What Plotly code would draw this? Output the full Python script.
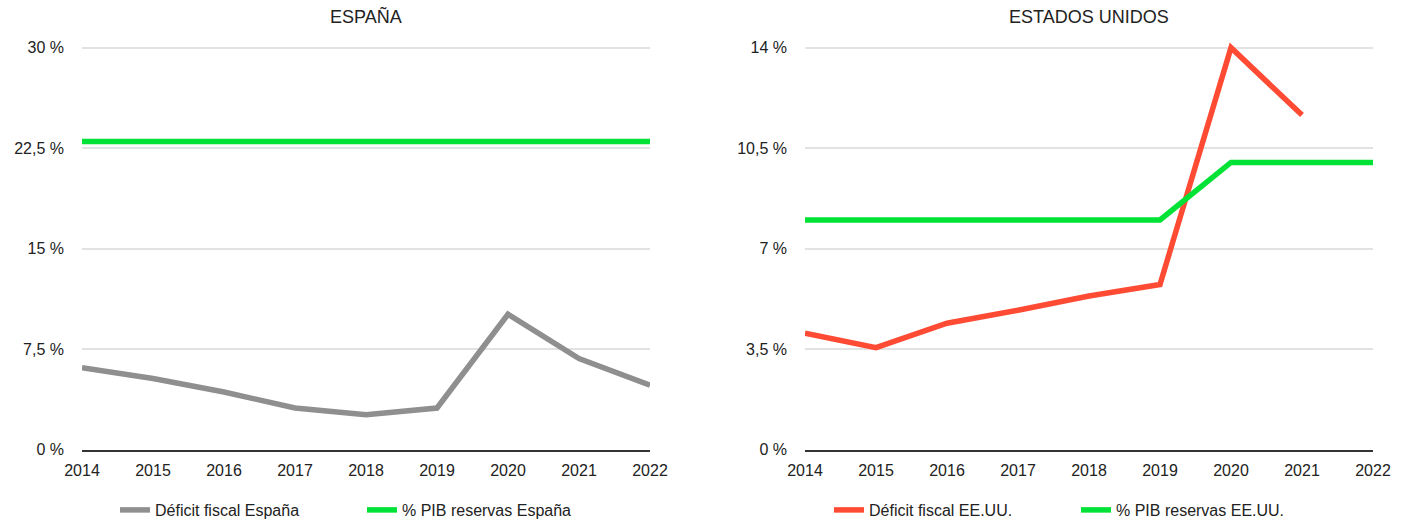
import plotly.graph_objects as go

# Years shared by both panels
years = [2014, 2015, 2016, 2017, 2018, 2019, 2020, 2021, 2022]

# España (% of GDP)
deficit_es = [6.1, 5.3, 4.3, 3.1, 2.6, 3.1, 10.1, 6.8, 4.8]
reservas_es = [23.0, 23.0, 23.0, 23.0, 23.0, 23.0, 23.0, 23.0, 23.0]

# Estados Unidos (% of GDP); 2022 deficit not available
deficit_us = [4.05, 3.55, 4.4, 4.85, 5.35, 5.75, 14.0, 11.65, None]
reservas_us = [8.0, 8.0, 8.0, 8.0, 8.0, 8.0, 10.0, 10.0, 10.0]

# Axis ticks
es_tickvals = [0, 7.5, 15, 22.5, 30]
es_ticktext = ["0 %", "7,5 %", "15 %", "22,5 %", "30 %"]
us_tickvals = [0, 3.5, 7, 10.5, 14]
us_ticktext = ["0 %", "3,5 %", "7 %", "10,5 %", "14 %"]

# Colours
GREY = "#8f8f8f"
GREEN = "#00e236"
RED = "#ff4b34"
TEXT = "#222222"
FONT = "Liberation Sans, Arial, Helvetica, sans-serif"

W, H = 1406, 527

# Plot-area geometry (pixels)
plot_top_px = 34
zero_px = 453
top_tick_px = 48
left_x0, left_x1 = 82, 650
right_x0, right_x1 = 805, 1373


def y_range(top_tick):
    per_px = top_tick / (zero_px - top_tick_px)
    return [0, top_tick + per_px * (top_tick_px - plot_top_px)]


y_dom = [1 - zero_px / H, 1 - plot_top_px / H]

fig = go.Figure()

line_w = 5.5
fig.add_trace(go.Scatter(x=years, y=deficit_es, mode="lines", name="Déficit fiscal España",
                         line=dict(color=GREY, width=line_w), xaxis="x", yaxis="y", legend="legend"))
fig.add_trace(go.Scatter(x=years, y=reservas_es, mode="lines", name="% PIB reservas España",
                         line=dict(color=GREEN, width=line_w), xaxis="x", yaxis="y", legend="legend"))
fig.add_trace(go.Scatter(x=years, y=deficit_us, mode="lines", name="Déficit fiscal EE.UU.",
                         line=dict(color=RED, width=line_w), xaxis="x2", yaxis="y2", legend="legend2",
                         connectgaps=False))
fig.add_trace(go.Scatter(x=years, y=reservas_us, mode="lines", name="% PIB reservas EE.UU.",
                         line=dict(color=GREEN, width=line_w), xaxis="x2", yaxis="y2", legend="legend2"))

xaxis_common = dict(
    range=[2014, 2022], tickvals=years, ticktext=[str(y) for y in years],
    showgrid=False, zeroline=False, showline=True, linecolor="#333333", linewidth=1.5,
    ticks="", ticklabelstandoff=5, automargin=False,
    tickfont=dict(family=FONT, size=16, color=TEXT),
)
yaxis_common = dict(
    showgrid=True, gridcolor="#e2e2e2", gridwidth=1.5, zeroline=False, showline=False,
    ticks="", ticklabelstandoff=17, automargin=False,
    tickfont=dict(family=FONT, size=16, color=TEXT),
)

legend_common = dict(
    orientation="h", xanchor="left", yanchor="middle", y=1 - 514 / H,
    font=dict(family=FONT, size=16, color=TEXT), bgcolor="rgba(0,0,0,0)",
    entrywidthmode="pixels", entrywidth=202, itemwidth=30,
)

fig.update_layout(
    width=W, height=H,
    margin=dict(l=0, r=0, t=0, b=0),
    paper_bgcolor="white", plot_bgcolor="white",
    showlegend=True,
    xaxis=dict(domain=[left_x0 / W, left_x1 / W], anchor="y", **xaxis_common),
    yaxis=dict(domain=y_dom, anchor="x", range=y_range(30), tickvals=es_tickvals,
               ticktext=es_ticktext, **yaxis_common),
    xaxis2=dict(domain=[right_x0 / W, right_x1 / W], anchor="y2", **xaxis_common),
    yaxis2=dict(domain=y_dom, anchor="x2", range=y_range(14), tickvals=us_tickvals,
                ticktext=us_ticktext, **yaxis_common),
    legend=dict(x=115 / W, **legend_common),
    legend2=dict(x=829 / W, **legend_common),
    annotations=[
        dict(text="ESPAÑA", x=(left_x0 + left_x1) / 2 / W, y=1 - 17 / H, xref="paper", yref="paper",
             xanchor="center", yanchor="middle", showarrow=False,
             font=dict(family=FONT, size=18, color=TEXT)),
        dict(text="ESTADOS UNIDOS", x=(right_x0 + right_x1) / 2 / W, y=1 - 17 / H, xref="paper",
             yref="paper", xanchor="center", yanchor="middle", showarrow=False,
             font=dict(family=FONT, size=18, color=TEXT)),
    ],
)

fig.write_html("out.html")
